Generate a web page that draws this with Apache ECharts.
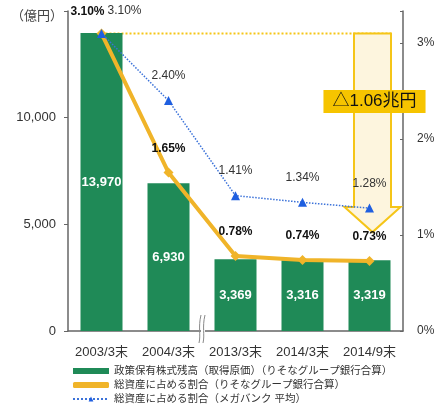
<!DOCTYPE html>
<html><head><meta charset="utf-8">
<script src="https://cdn.jsdelivr.net/npm/echarts/dist/echarts.min.js"></script>
<style>html,body{margin:0;padding:0;background:#fff}#c{width:434px;height:409px}</style>
</head><body><div id="c"></div>
<script>
const categories = ['2003/3末', '2004/3末', '2013/3末', '2014/3末', '2014/9末'];
const holdings = [13970, 6930, 3369, 3316, 3319];
const resonaRatio = [3.10, 1.65, 0.78, 0.74, 0.73];
const megaRatio = [3.10, 2.40, 1.41, 1.34, 1.28];
const leftMax = 15000, leftInterval = 5000;
const rightMax = 10 / 3, rightInterval = 1;
const seriesNames = [
  '政策保有株式残高（取得原価）（りそなグループ銀行合算）',
  '総資産に占める割合（りそなグループ銀行合算）',
  '総資産に占める割合（メガバンク 平均）'
];
const unitLabel = '（億円）';
const arrowFrom = 3.10, arrowTo = 1.03, arrowIndex = 4;
const arrowLabel = '△1.06兆円';

const FONT = '"Liberation Sans", "Noto Sans CJK JP", sans-serif';
const GREEN = '#1f8a57', YELLOW = '#f0b429', BLUE = '#1f5fe0';

const chart = echarts.init(document.getElementById('c'));
const pct = v => v.toFixed(2) + '%';

const yellowData = resonaRatio.map((v, i) => i === 0
  ? { value: v, label: { offset: [-14, 2] } } : v);
const blueData = megaRatio.map((v, i) => i === 0
  ? { value: v, label: { offset: [23, 2] } } : v);

chart.setOption({
  animation: false,
  textStyle: { fontFamily: FONT },
  grid: { left: 68, right: 31, top: 11, bottom: 78, containLabel: false, outerBoundsMode: 'none' },
  legend: {
    orient: 'vertical', left: 72, top: 365, padding: 0, itemWidth: 36, itemHeight: 6, itemGap: 2,
    textStyle: { fontSize: 10.5, lineHeight: 12, color: '#333', fontFamily: FONT },
    data: [
      { name: seriesNames[0], icon: 'rect' },
      { name: seriesNames[1], icon: 'roundRect' },
      { name: seriesNames[2] }
    ]
  },
  xAxis: {
    type: 'category', data: categories,
    axisLine: { lineStyle: { color: '#666', width: 1.5 } },
    axisTick: { inside: true, length: 4, lineStyle: { color: '#666' } },
    axisLabel: { fontSize: 13, color: '#333', margin: 15, fontFamily: FONT,
      interval: 0, hideOverlap: false }
  },
  yAxis: [
    {
      type: 'value', min: 0, max: leftMax, interval: leftInterval, position: 'left',
      splitLine: { show: false },
      axisLine: { show: true, lineStyle: { color: '#666', width: 1.5 } },
      axisTick: { show: true, length: 4, lineStyle: { color: '#666' } },
      axisLabel: { fontSize: 13, color: '#333', margin: 12,
        formatter: v => v >= leftMax ? '' : v.toLocaleString('en-US') }
    },
    {
      type: 'value', min: 0, max: rightMax, interval: rightInterval, position: 'right',
      splitLine: { show: false },
      axisLine: { show: true, lineStyle: { color: '#666', width: 1.5 } },
      axisTick: { show: true, inside: true, length: 3, lineStyle: { color: '#666' } },
      axisLabel: { fontSize: 12, color: '#333', margin: 14,
        formatter: v => Math.abs(v - Math.round(v)) > 1e-6 ? '' : Math.round(v) + '%' }
    }
  ],
  series: [
    {
      name: seriesNames[0], type: 'bar', data: holdings, barWidth: 42, yAxisIndex: 0,
      itemStyle: { color: GREEN },
      label: { show: true, position: 'inside', color: '#fff', fontSize: 13, fontWeight: 'bold',
        formatter: p => p.value.toLocaleString('en-US') }
    },
    {
      name: seriesNames[1], type: 'line', data: yellowData, yAxisIndex: 1,
      lineStyle: { color: YELLOW, width: 4 }, itemStyle: { color: YELLOW },
      symbol: 'diamond', symbolSize: 10,
      label: { show: true, position: 'top', distance: 13, color: '#111', fontSize: 12, fontWeight: 'bold',
        formatter: p => pct(p.value) }
    },
    {
      name: seriesNames[2], type: 'line', data: blueData, yAxisIndex: 1,
      lineStyle: { color: '#3b72d9', width: 1.5, type: 'dotted' }, itemStyle: { color: BLUE },
      symbol: 'triangle', symbolSize: 9,
      label: { show: true, position: 'top', distance: 14, color: '#333', fontSize: 12,
        formatter: p => pct(p.value) }
    }
  ]
});

function px(i, v) { return chart.convertToPixel({ seriesIndex: 1 }, [i, v]); }

const arrowTopPt = px(arrowIndex, arrowFrom);
const arrowTipPt = px(arrowIndex, arrowTo);
const cx = arrowTopPt[0] + 3, halfBody = 18.5, halfHead = 28, headLen = 25;
const ty = arrowTopPt[1], tipY = arrowTipPt[1];
const startPt = px(0, arrowFrom);
const bx = (px(1, 0)[0] + px(2, 0)[0]) / 2;
const axisY = px(0, 0)[1];

chart.setOption({
  graphic: [
    { type: 'text', left: 11, top: 10, z: 100,
      style: { text: unitLabel, fontSize: 13, fill: '#444', fontFamily: FONT } },
    { type: 'line', z: 1, shape: { x1: startPt[0], y1: ty, x2: cx + halfBody, y2: ty },
      style: { stroke: '#f5c518', lineWidth: 2, lineDash: [2, 2] } },
    { type: 'polygon', z: 1,
      shape: { points: [
        [cx - halfBody, ty], [cx + halfBody, ty], [cx + halfBody, tipY - headLen],
        [cx + halfHead, tipY - headLen], [cx, tipY], [cx - halfHead, tipY - headLen],
        [cx - halfBody, tipY - headLen]
      ] },
      style: { fill: '#fdf5de', stroke: '#f5c518', lineWidth: 2 } },
    { type: 'text', z: 100, x: cx + 2, y: ty + 68,
      style: { text: arrowLabel, fontSize: 17, fill: '#111', fontFamily: FONT,
        align: 'center', verticalAlign: 'middle',
        backgroundColor: '#f6c400', padding: [3, 9] } },
    { type: 'rect', z: 100, shape: { x: bx - 1, y: axisY - 2, width: 4, height: 4 },
      style: { fill: '#fff' } },
    { type: 'bezierCurve', z: 101,
      shape: { x1: bx - 1, y1: axisY - 16, cpx1: bx - 4, cpy1: axisY - 4, cpx2: bx - 1, cpy2: axisY + 4, x2: bx - 3, y2: axisY + 12 },
      style: { stroke: '#888', lineWidth: 1, fill: null } },
    { type: 'bezierCurve', z: 101,
      shape: { x1: bx + 3, y1: axisY - 16, cpx1: bx, cpy1: axisY - 4, cpx2: bx + 3, cpy2: axisY + 4, x2: bx + 1, y2: axisY + 12 },
      style: { stroke: '#888', lineWidth: 1, fill: null } }
  ]
});
</script>
</body></html>
